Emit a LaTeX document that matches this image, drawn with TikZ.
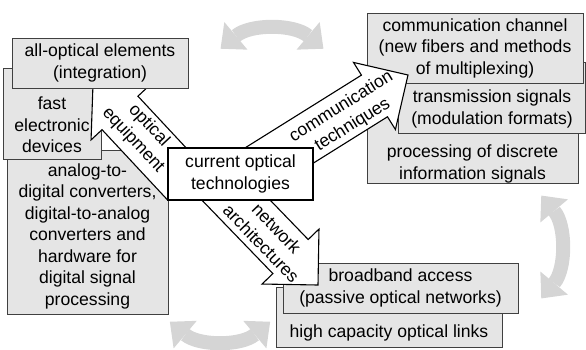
\documentclass[tikz,border=0pt]{standalone}
\usepackage{fontspec}
\setmainfont{Liberation Sans}
\usetikzlibrary{shapes.arrows,arrows.meta,positioning}

\begin{document}
\begin{tikzpicture}[x=1pt,y=-1pt,
    box/.style={draw=black!75, fill=gray!20, line width=0.9pt, inner sep=0pt},
    txt/.style={align=center, inner sep=0pt, font=\fontsize{17.6}{21.5}\selectfont},
    bigarrow/.style={single arrow, draw=black, fill=white, line width=1.1pt,
      single arrow head extend=15pt, inner xsep=0pt, inner ysep=24pt, outer sep=0pt,
      minimum height=#1, anchor=tip},
    swing/.style={draw=gray!33, line width=14pt,
      {Triangle[length=20pt,width=36pt,line width=0pt]}-{Triangle[length=20pt,width=36pt,line width=0pt]}}]
        \useasboundingbox (0,0) rectangle (586,349);
        % grey swing arrows
        \draw[swing] ([shift={(-130:80)}]272,110) arc[start angle=-130, end angle=-50, radius=80];
        \draw[swing] ([shift={(-40:80)}]480,247) arc[start angle=-40, end angle=40, radius=80];
        \draw[swing] ([shift={(130:78)}]220,262) arc[start angle=130, end angle=50, radius=78];
        % left group
        \node[box, minimum width=161pt, minimum height=164pt] (adc) at (87.5,232) {};
        \node[txt] (adcT) at (87.5,236) {analog-to-\\digital converters,\\digital-to-analog\\converters and\\hardware for\\digital signal\\processing};
        \node[box, minimum width=98pt, minimum height=91pt] (fast) at (52,113.5) {};
        \node[txt] (fastT) at (52,125) {fast\\electronic\\devices};
        \node[bigarrow=136pt, rotate=133] (arrOpt) at (93,84) {};
        \node[box, txt, minimum width=176pt, minimum height=50pt] (aoe) at (100,63) {all-optical elements\\(integration)};
        % right group
        \node[box, minimum width=211pt, minimum height=113pt] (proc) at (472.5,126.5) {};
        \node[txt] (procT) at (472.5,164) {processing of discrete\\information signals};
        \node[box, minimum width=187pt, minimum height=71pt] (trans) at (491.5,97.5) {};
        \node[txt] (transT) at (492,109) {transmission signals\\(modulation formats)};
        \node[box, txt, minimum width=216pt, minimum height=70pt] (chan) at (475,48) {communication channel\\(new fibers and methods\\of multiplexing)};
        \node[bigarrow=180pt, rotate=32] (arrCom) at (408,75) {};
        % bottom group
        \node[box, minimum width=226pt, minimum height=60pt] (links) at (389,317) {};
        \node[txt] (linksT) at (389,333) {high capacity optical links};
        \node[box, txt, minimum width=235pt, minimum height=50pt] (pon) at (400.5,288) {broadband access\\(passive optical networks)};
        \node[bigarrow=145pt, rotate=-46] (arrNet) at (318,285) {};
        % centre
        \node[draw, line width=1.6pt, fill=white, txt, minimum width=145pt, minimum height=52pt] (cot) at (240.5,174) {current optical\\technologies};
        % arrow labels
        \node[txt, rotate=-47] (lblOpt) at (141,133) {optical\\equipment};
        \node[txt, rotate=32] (lblCom) at (347,116) {communication\\techniques};
        \node[txt, rotate=-46] (lblNet) at (269,236) {network\\architectures};
\end{tikzpicture}
\end{document}
